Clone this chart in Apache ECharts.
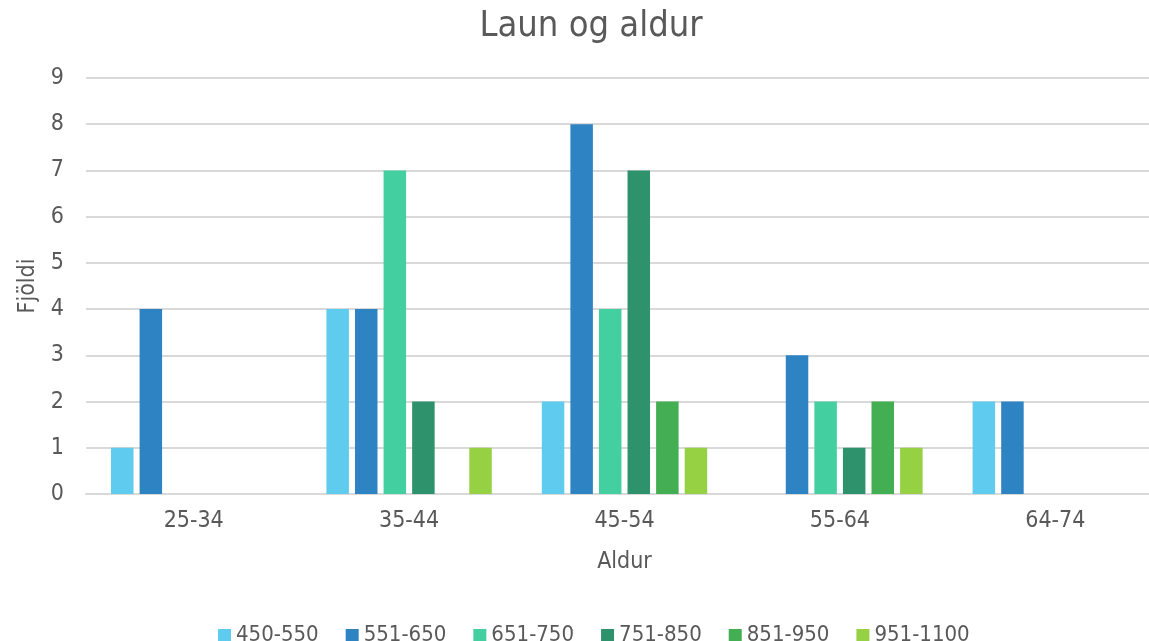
<!DOCTYPE html>
<html lang="is">
<head>
    <meta charset="utf-8">
    <script src="https://cdn.jsdelivr.net/npm/echarts@6/dist/echarts.min.js"></script>
    <title>Laun og aldur</title>
</head>
<body>
<style>
    html, body {
        width: 100%;
        height: 100%;
        margin: 0;
        overflow: hidden;
        background: #fff;
    }
    /* plot area runs past the right edge in the original, so the box is a bit wider than the window */
    #main {
        width: 1163px;
        height: 641px;
    }
</style>
<div id='main'></div>
<script>
    // aldursflokkar
    var categories = ['25-34', '35-44', '45-54', '55-64', '64-74'];
    var seriesNames = ['450-550', '551-650', '651-750', '751-850', '851-950', '951-1100'];
    // fjöldi í hverjum launaflokki
    var s450 = [1, 4, 2, 0, 2];
    var s551 = [4, 4, 8, 3, 2];
    var s651 = [0, 7, 4, 2, 0];
    var s751 = [0, 2, 7, 1, 0];
    var s851 = [0, 0, 2, 2, 0];
    var s951 = [0, 1, 1, 1, 0];
    var yTicks = [0, 1, 2, 3, 4, 5, 6, 7, 8, 9];

    var colors = ['#5fcbef', '#2e83c3', '#43cfa0', '#2e936c', '#43ae52', '#96d043'];
    var font = "'Liberation Sans Narrow', 'DejaVu Sans Condensed', sans-serif";
    var allData = [s450, s551, s651, s751, s851, s951];

    var chart = echarts.init(document.getElementById('main'));
    var series = [];
    for (var i = 0; i < seriesNames.length; i++) {
        series.push({
            name: seriesNames[i],
            type: 'bar',
            data: allData[i],
            barWidth: 22.5,
            barGap: '27%',
            itemStyle: {color: colors[i]}
        });
    }

    var option = {
        animation: false,
        color: colors,
        title: {
            text: 'Laun og aldur',
            left: 586,
            textAlign: 'center',
            top: 4,
            textStyle: {fontFamily: font, fontSize: 36, fontWeight: 'normal', color: '#595959'}
        },
        legend: {
            data: seriesNames,
            left: 213,
            top: 619,
            itemWidth: 13,
            itemHeight: 12,
            itemGap: 27,
            icon: 'rect',
            textStyle: {fontFamily: font, fontSize: 22, color: '#595959'}
        },
        grid: {left: 86, top: 78, right: 0, height: 416, containLabel: false},
        xAxis: {
            type: 'category',
            data: categories,
            name: 'Aldur',
            nameLocation: 'middle',
            nameGap: 57,
            nameTextStyle: {fontFamily: font, fontSize: 23, color: '#595959'},
            axisLine: {lineStyle: {color: '#d9d9d9', width: 2}},
            axisTick: {show: false},
            axisLabel: {fontFamily: font, fontSize: 23, color: '#595959', margin: 16}
        },
        yAxis: {
            type: 'value',
            min: yTicks[0],
            max: yTicks[yTicks.length - 1],
            interval: 1,
            name: 'Fjöldi',
            nameLocation: 'middle',
            nameGap: 43,
            nameTextStyle: {fontFamily: font, fontSize: 23, color: '#595959'},
            axisLine: {show: false},
            axisTick: {show: false},
            axisLabel: {fontFamily: font, fontSize: 23, color: '#595959', margin: 22},
            splitLine: {lineStyle: {color: '#d9d9d9', width: 2}}
        },
        series: series
    };
    chart.setOption(option);
</script>
</body>
</html>
